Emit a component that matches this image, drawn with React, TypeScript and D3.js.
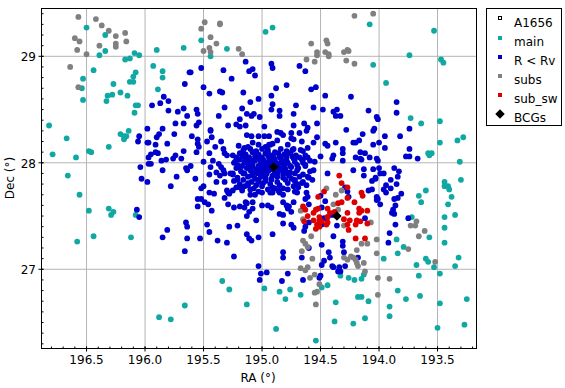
import React, { useEffect, useRef } from 'react';
import * as d3 from 'd3';

type Pt = [number, number];

const xMajor = [196.5, 196.0, 195.5, 195.0, 194.5, 194.0, 193.5];
const yMajor = [29, 28, 27];
const legendNames = ['A1656', 'main', 'R < Rv', 'subs', 'sub_sw', 'BCGs'];

const clusterCentre: Pt[] = [[194.94, 27.97]];
const bcgs: Pt[] = [[194.9, 27.96], [194.36, 27.5]];

const mainPts: Pt[] = [
  [196.5,29.27],[196.34,29.2],[196.34,29.05],[196.39,29.01],[196.09,29.03],[196.05,29.01],[196.13,28.98],[196.17,28.97],[195.9,29.06],[195.67,29.08],
  [196.44,28.87],[196.08,28.85],[195.93,28.91],[195.85,28.86],[195.85,28.8],[196.1,28.81],[196.53,28.79],[196.13,28.76],[196.1,28.76],[196.27,28.74],
  [196.54,28.7],[195.89,28.69],[196.21,28.66],[196.28,28.64],[196.32,28.63],[196.15,28.63],[196.53,28.59],[196.33,28.58],[196.08,28.54],[196.06,28.54],
  [196.09,28.47],[196.82,28.35],[195.52,29.15],[195.3,29.07],[195.44,29.0],[194.97,29.23],[194.91,29.27],[194.08,29.3],[194.05,28.92],[193.53,29.24],
  [193.74,29.01],[193.47,28.97],[193.45,28.94],[193.94,28.75],[193.73,28.42],[193.64,28.37],[193.48,28.39],[196.67,28.23],[196.79,28.08],[196.59,28.05],
  [196.48,28.11],[196.46,28.1],[196.31,28.15],[196.21,28.27],[196.18,28.25],[196.16,28.25],[196.18,28.22],[196.14,28.3],[196.66,27.88],[196.56,27.7],
  [196.48,27.55],[196.31,27.57],[196.27,27.54],[196.29,27.51],[196.08,27.51],[196.44,27.31],[196.12,27.3],[196.58,27.26],[193.28,28.24],[193.33,28.21],
  [193.48,28.19],[193.58,28.09],[193.55,28.09],[193.57,28.07],[193.31,28.01],[193.3,27.84],[193.44,27.82],[193.44,27.78],[193.41,27.78],[193.4,27.75],
  [193.6,27.74],[193.66,27.69],[193.38,27.68],[193.64,27.63],[193.41,27.61],[193.35,27.51],[193.44,27.49],[193.72,27.49],[193.44,27.39],[193.57,27.3],
  [193.85,27.28],[193.44,27.25],[193.79,27.21],[193.84,27.15],[193.96,27.1],[193.6,27.1],[193.32,27.11],[195.88,26.55],[195.78,26.53],[195.66,26.66],
  [195.34,26.89],[195.28,26.81],[195.13,26.67],[194.98,26.82],[194.85,26.79],[194.76,26.81],[194.8,26.72],[194.67,26.76],[194.88,26.44],[194.54,26.33],
  [194.49,26.83],[194.44,26.85],[194.33,26.94],[194.26,26.92],[194.21,26.9],[194.15,26.91],[194.13,26.95],[194.18,26.74],[194.15,26.74],[194.09,26.7],
  [194.37,26.69],[194.38,26.51],[194.22,26.49],[194.12,26.54],[193.68,27.04],[193.58,27.07],[193.53,27.02],[193.35,27.03],[193.66,26.94],[193.48,26.96],
  [193.84,26.8],[193.77,26.72],[193.65,26.75],[193.91,26.65],[193.91,26.56],[193.48,26.68],[193.25,26.72],[193.5,26.45],[193.27,26.48],
];

const subsPts: Pt[] = [
  [196.57,29.37],[196.42,29.35],[196.37,29.29],[196.31,29.24],[196.25,29.19],[196.17,29.22],[196.6,29.17],[196.56,29.14],[196.25,29.12],[196.16,29.14],
  [196.39,29.1],[196.25,29.09],[196.58,29.06],[196.5,29.02],[196.64,28.9],[196.57,28.71],[195.49,29.32],[195.36,29.31],[195.36,29.3],[195.52,29.26],
  [195.44,29.18],[195.39,29.12],[195.45,29.08],[195.5,29.05],[195.44,29.04],[195.2,29.07],[195.17,29.02],[194.21,29.38],[194.05,29.4],[194.58,29.12],
  [194.45,29.15],[194.44,29.12],[194.53,29.04],[194.53,29.01],[194.46,29.04],[194.43,29.02],[194.43,29.0],[194.3,29.04],[194.27,29.06],[194.26,29.05],
  [194.62,28.97],[194.55,28.95],[194.28,28.96],[194.21,28.93],[194.45,27.76],[194.37,27.7],[194.32,27.74],[194.39,27.61],[194.35,27.56],[194.67,27.55],
  [194.65,27.47],[194.07,27.44],[194.3,27.41],[194.58,27.31],[194.65,27.27],[194.63,27.24],[194.61,27.21],[194.66,27.17],[194.02,27.28],[194.15,27.24],
  [194.1,27.24],[194.19,27.18],[194.57,27.1],[194.3,27.11],[194.24,27.12],[194.22,27.11],[194.02,27.15],[193.68,27.45],[193.73,27.41],[193.69,27.41],
  [193.61,27.36],[193.66,27.31],[193.75,27.19],[194.67,27.01],[194.63,26.99],[194.61,27.02],[194.59,26.92],[194.55,26.95],[194.51,26.86],[194.55,26.78],
  [194.53,26.79],[194.54,26.67],[194.27,27.09],[194.2,27.09],[194.19,27.06],[194.18,27.03],[194.13,27.06],[194.12,26.98],[194.01,26.92],[194.01,26.76],
  [193.52,27.07],[193.91,26.91],
];

const subSwPts: Pt[] = [
  [194.34,27.88],[194.32,27.81],[194.27,27.77],[194.47,27.73],[194.52,27.68],[194.15,27.72],[194.14,27.69],[194.32,27.63],[194.35,27.62],[194.27,27.67],
  [194.21,27.63],[194.65,27.59],[194.63,27.56],[194.52,27.57],[194.54,27.56],[194.56,27.53],[194.44,27.57],[194.42,27.53],[194.27,27.53],[194.17,27.57],
  [194.15,27.55],[194.1,27.55],[194.17,27.53],[194.61,27.5],[194.64,27.45],[194.56,27.46],[194.51,27.49],[194.51,27.46],[194.49,27.45],[194.44,27.44],
  [194.38,27.54],[194.3,27.47],[194.25,27.46],[194.19,27.46],[194.16,27.45],[194.2,27.42],[194.1,27.43],[194.27,27.42],[194.26,27.37],[194.53,27.42],
  [194.51,27.4],[194.54,27.38],[194.44,27.49],[194.2,27.29],[194.12,27.29],[194.45,27.42],
];

const blueOuter: Pt[] = [
  [195.62,28.85],[195.66,28.74],[195.84,28.62],[195.8,28.58],[195.94,28.54],[195.87,28.56],[195.8,28.49],[195.72,28.48],[195.67,28.51],[195.64,28.44],
  [195.67,28.37],[195.74,28.37],[195.98,28.32],[195.85,28.32],[195.61,28.85],[195.52,28.89],[195.33,28.87],[195.14,28.95],[195.11,28.86],[195.08,28.88],
  [195.06,28.82],[195.26,28.79],[194.92,28.93],[194.91,28.89],[194.68,28.91],[194.63,28.86],[195.5,28.71],[195.45,28.65],[195.36,28.67],[195.34,28.66],
  [195.16,28.66],[194.88,28.7],[194.79,28.73],[194.58,28.69],[194.54,28.71],[194.92,28.63],[194.46,28.63],[194.24,28.62],[195.03,28.6],[195.1,28.57],
  [194.91,28.55],[194.71,28.54],[195.32,28.52],[195.17,28.51],[195.56,28.5],[195.55,28.46],[194.92,28.5],[194.85,28.49],[194.85,28.44],[194.73,28.46],
  [194.56,28.52],[194.48,28.5],[194.39,28.48],[194.36,28.5],[194.37,28.44],[194.33,28.44],[194.09,28.49],[194.02,28.43],[194.01,28.41],[195.37,28.44],
  [195.13,28.46],[195.09,28.44],[195.07,28.46],[195.02,28.43],[195.19,28.41],[195.54,28.38],[195.56,28.35],[195.29,28.35],[195.22,28.36],[195.19,28.34],
  [195.14,28.35],[194.98,28.34],[194.73,28.35],[194.64,28.37],[194.61,28.33],[194.53,28.37],[195.44,28.31],[194.28,28.31],[194.04,28.32],[193.85,28.57],
  [193.85,28.47],[193.74,28.32],[196.05,28.25],[196.06,28.2],[195.88,28.27],[195.9,28.24],[195.75,28.27],[195.98,28.19],[195.97,28.19],[195.91,28.17],
  [195.81,28.18],[195.97,28.05],[195.95,28.08],[195.91,28.1],[195.89,28.09],[195.74,28.07],[195.76,28.04],[195.67,28.11],[195.69,28.04],[195.82,28.03],
  [195.86,28.02],[195.97,27.99],[195.95,27.99],[196.04,27.96],[195.85,27.93],[195.65,27.95],[195.64,27.93],[195.73,27.87],[196.03,27.85],[195.98,27.82],
  [195.78,27.78],[196.07,27.56],[196.05,27.49],[195.65,27.44],[195.64,27.4],[195.81,27.37],[195.85,27.3],[195.64,27.29],[195.66,27.17],[195.6,28.25],
  [195.55,28.22],[195.55,28.18],[195.54,28.15],[195.44,28.3],[195.43,28.24],[195.47,28.2],[195.35,28.2],[195.4,28.15],[195.56,28.1],[195.45,28.09],
  [195.33,28.13],[195.32,28.09],[195.3,28.07],[195.5,28.01],[195.42,28.02],[195.37,27.99],[195.61,27.97],[195.44,27.96],[195.35,27.96],[195.33,27.93],
  [195.39,27.91],[195.45,27.89],[195.32,27.9],[195.36,27.88],[195.57,27.85],[195.39,27.82],[195.5,27.78],[195.52,27.76],[195.32,27.82],[195.3,27.74],
  [195.28,27.71],[195.45,27.72],[195.41,27.71],[195.32,27.67],[195.52,27.66],[195.55,27.66],[195.49,27.63],[195.46,27.61],[195.55,27.59],[195.43,27.55],
  [195.24,27.58],[195.19,27.59],[195.29,27.61],[195.15,27.58],[195.13,27.62],[195.08,27.63],[195.0,27.6],[194.95,27.6],[194.92,27.58],[195.08,27.57],
  [195.11,27.54],[195.13,27.5],[195.05,27.46],[195.47,27.42],[195.45,27.35],[195.28,27.4],[195.21,27.41],[195.53,27.29],[195.38,27.27],[195.3,27.25],
  [195.13,27.33],[195.11,27.29],[195.09,27.27],[195.03,27.3],[194.91,27.33],[195.24,27.12],[194.82,27.16],[194.82,27.43],[194.85,27.52],[194.82,27.51],
  [194.78,27.57],[194.75,27.54],[194.77,27.59],[194.75,27.42],[194.73,27.39],[194.62,27.72],[194.61,27.68],[194.63,27.66],[194.69,27.77],[194.72,27.73],
  [194.85,27.72],[194.91,27.72],[194.82,27.7],[195.13,28.26],[195.09,28.25],[195.03,28.25],[194.98,28.25],[194.94,28.25],[194.87,28.29],[194.84,28.28],
  [194.82,28.26],[194.75,28.28],[194.68,28.28],[194.62,28.3],[194.75,28.23],[194.73,28.22],[194.53,28.24],[194.66,28.2],[194.78,28.17],[194.87,28.21],
  [194.91,28.18],[194.94,28.17],[195.03,28.17],[195.08,28.19],[195.2,28.16],[195.15,28.14],[195.19,28.09],[195.25,28.07],[194.56,28.19],[194.61,28.14],
  [194.65,28.11],[194.46,28.18],[194.44,28.16],[194.37,28.19],[194.5,28.06],[194.61,28.05],[194.55,28.01],[194.39,28.07],[194.4,28.04],[194.31,28.13],
  [194.31,28.09],[194.14,28.27],[194.05,28.3],[194.17,28.21],[194.2,28.19],[194.22,28.19],[194.05,28.17],[194.16,28.1],[194.12,28.09],[194.08,28.05],
  [194.2,28.05],[194.16,28.04],[194.15,28.03],[194.02,28.04],[194.01,28.02],[194.31,28.02],[194.22,27.93],[194.13,27.94],[194.05,27.94],[194.13,27.88],
  [194.03,27.86],[194.06,27.83],[194.09,27.74],[194.06,27.75],[194.29,27.77],[194.44,27.9],[194.6,27.61],[194.5,27.69],[194.46,27.64],[194.27,27.73],
  [194.26,27.68],[194.49,27.58],[194.4,27.51],[194.36,27.41],[194.44,27.49],[194.47,27.48],[194.49,27.42],[194.6,27.44],[194.63,27.4],[194.64,27.36],
  [194.39,27.31],[194.49,27.23],[194.31,27.26],[194.31,27.22],[194.3,27.16],[194.43,27.16],[194.42,27.11],[194.12,27.48],[194.6,27.2],[193.95,28.25],
  [193.82,28.25],[194.0,28.19],[193.95,28.14],[193.74,28.13],[193.77,28.06],[193.74,28.06],[193.67,28.04],[194.0,27.95],[193.87,27.95],[193.83,27.92],
  [193.99,27.9],[193.96,27.9],[193.84,27.87],[194.03,27.85],[193.9,27.84],[193.85,27.8],[193.94,27.79],[193.96,27.75],[193.9,27.76],[193.94,27.72],
  [193.81,27.71],[194.02,27.68],[194.01,27.66],[194.02,27.65],[193.87,27.66],[193.84,27.67],[193.99,27.61],[193.86,27.6],[193.88,27.56],[193.89,27.53],
  [193.87,27.52],[193.75,27.48],[193.86,27.42],[193.91,27.34],[193.92,27.25],[195.03,27.03],[195.01,26.96],[194.96,26.97],[195.02,26.9],[194.83,26.89],
  [194.78,26.96],[194.65,26.9],[194.82,27.11],[194.66,27.11],[194.49,27.04],[194.47,27.08],[194.5,26.94],[194.51,26.92],[194.4,27.03],[194.39,27.02],
  [194.34,27.02],[194.34,26.99],[194.35,26.98],[194.33,26.98],[194.29,27.03],[194.18,27.11],
];

// core of the cluster, too crowded to read one by one
const blueCore: Pt[] = [
  [195.16,28.12],[195.1,28.13],[195.05,28.11],[195.0,28.13],[194.95,28.12],[194.89,28.1],[194.84,28.13],[194.79,28.11],[194.73,28.13],[194.67,28.12],
  [195.14,28.08],[195.08,28.1],[195.03,28.08],[194.97,28.09],[194.92,28.07],[194.86,28.09],[194.81,28.08],[194.76,28.09],[194.71,28.07],
  [195.22,28.05],[195.17,28.06],[195.11,28.05],[195.06,28.06],[195.0,28.05],[194.95,28.07],[194.9,28.05],[194.85,28.06],[194.79,28.05],[194.74,28.06],[194.68,28.05],[194.63,28.07],
  [195.19,28.03],[195.13,28.04],[195.09,28.02],[195.04,28.04],[194.99,28.03],[194.94,28.04],[194.89,28.03],[194.84,28.04],[194.79,28.02],[194.73,28.04],[194.66,28.03],[194.59,28.02],
  [195.24,28.0],[195.15,28.01],[195.1,28.0],[195.06,28.02],[195.01,28.01],[194.96,28.0],[194.92,28.01],[194.88,28.0],[194.83,28.02],[194.78,28.0],[194.72,28.01],[194.65,28.0],
  [195.21,27.98],[195.17,27.97],[195.12,27.99],[195.08,27.98],[195.03,27.97],[194.99,27.99],[194.95,27.98],[194.91,27.97],[194.86,27.99],[194.81,27.98],[194.76,27.97],[194.7,27.98],[194.63,27.97],
  [195.22,27.95],[195.13,27.95],[195.09,27.96],[195.05,27.94],[195.01,27.96],[194.97,27.95],[194.92,27.94],[194.88,27.96],[194.84,27.95],[194.8,27.94],[194.75,27.96],[194.69,27.95],
  [195.18,27.92],[195.1,27.93],[195.06,27.91],[195.02,27.93],[194.98,27.92],[194.94,27.93],[194.89,27.91],[194.85,27.93],[194.81,27.92],[194.76,27.91],[194.7,27.93],[194.59,27.92],
  [195.25,27.89],[195.15,27.9],[195.09,27.88],[195.04,27.9],[195.0,27.89],[194.96,27.9],[194.91,27.88],[194.87,27.9],[194.82,27.89],[194.77,27.88],[194.72,27.9],[194.65,27.89],
  [195.21,27.86],[195.12,27.87],[195.06,27.85],[195.01,27.87],[194.97,27.86],[194.92,27.85],[194.87,27.87],[194.82,27.86],[194.75,27.85],[194.68,27.87],[194.6,27.86],
  [195.24,27.83],[195.16,27.84],[195.09,27.82],[195.03,27.84],[194.97,27.83],[194.92,27.84],[194.87,27.82],[194.8,27.84],[194.72,27.83],[194.65,27.82],[194.57,27.84],
  [195.19,27.8],[195.12,27.81],[195.05,27.79],[194.99,27.81],[194.93,27.8],[194.85,27.79],[194.78,27.81],[194.7,27.8],[194.62,27.79],
  [195.22,27.77],[195.15,27.78],[195.07,27.76],[195.0,27.78],[194.91,27.77],[194.82,27.76],[194.73,27.78],
  [195.17,27.74],[195.1,27.75],[195.03,27.73],[194.95,27.75],[194.86,27.74],[194.78,27.75],
  [195.23,28.01],[195.2,27.96],[195.25,27.9],[195.21,27.84],[195.19,27.77],[195.27,27.9],[195.13,28.0],[195.16,27.9],[195.12,27.79],[195.06,27.7],
  [195.0,27.72],[195.1,27.7],[195.14,27.63],[194.93,27.72],[194.82,27.63],[194.79,27.6],[194.73,27.63],[194.7,27.72],[194.66,27.81],[194.61,27.87],
  [194.56,27.93],[194.63,27.98],[195.17,28.09],[195.12,28.15],[195.08,28.1],[194.97,28.15],[194.93,28.17],[194.95,28.1],[194.8,28.07],[194.74,28.12],
  [194.72,28.05],[194.65,28.03],[195.25,27.74],[195.29,27.72],[194.83,28.0],[194.78,27.9],[194.72,27.84],[195.03,27.82],[195.08,27.9],[194.89,27.76],
];

const blueAll = [...blueOuter, ...blueCore];

const colors = { main: '#10a8a2', blue: '#0000cc', gray: '#808080', red: '#dd0000', black: '#000000' };
const gridColor = '#b4b4b4';
const fontFamily = '"DejaVu Sans", sans-serif';

const App = () => {
  const svgRef = useRef<SVGSVGElement>(null);

  useEffect(() => {
    const svg = d3.select(svgRef.current);
    svg.selectAll('*').remove();

    const left = 41.5, right = 476.5, top = 8.5, bottom = 348.5;
    const x = d3.scaleLinear().domain([196.885, 193.167]).range([left, right]);
    const y = d3.scaleLinear().domain([29.449, 26.256]).range([top, bottom]);

    svg.append('rect').attr('width', 565).attr('height', 388).attr('fill', 'white');

    // grid
    svg.append('g').selectAll('line').data(xMajor).enter().append('line')
      .attr('x1', (d) => x(d)).attr('x2', (d) => x(d)).attr('y1', top).attr('y2', bottom)
      .attr('stroke', gridColor);
    svg.append('g').selectAll('line').data(yMajor).enter().append('line')
      .attr('x1', left).attr('x2', right).attr('y1', (d) => y(d)).attr('y2', (d) => y(d))
      .attr('stroke', gridColor);

    // points
    const dots = (pts: Pt[], fill: string) =>
      svg.append('g').selectAll('circle').data(pts).enter().append('circle')
        .attr('cx', (d) => x(d[0])).attr('cy', (d) => y(d[1])).attr('r', 2.9).attr('fill', fill);

    svg.append('g').selectAll('rect').data(clusterCentre).enter().append('rect')
      .attr('x', (d) => x(d[0]) - 2).attr('y', (d) => y(d[1]) - 2).attr('width', 4).attr('height', 4)
      .attr('fill', 'none').attr('stroke', 'black');
    dots(mainPts, colors.main);
    dots(blueAll, colors.blue);
    dots(subsPts, colors.gray);
    dots(subSwPts, colors.red);

    const diamond = d3.symbol().type(d3.symbolDiamond2).size(58);
    svg.append('g').selectAll('path').data(bcgs).enter().append('path')
      .attr('d', diamond)
      .attr('transform', (d) => `translate(${x(d[0])},${y(d[1])})`)
      .attr('fill', colors.black);

    // frame
    svg.append('rect').attr('x', left).attr('y', top).attr('width', right - left).attr('height', bottom - top)
      .attr('fill', 'none').attr('stroke', 'black');

    // ticks
    const xMinor = d3.range(1968, 1931, -1).map((d) => d / 10);
    const yMinor = d3.range(263, 295).map((d) => d / 10);
    svg.append('g').selectAll('line').data(xMinor).enter().append('line')
      .attr('x1', (d) => x(d)).attr('x2', (d) => x(d)).attr('y1', bottom - 2).attr('y2', bottom)
      .attr('stroke', 'black');
    svg.append('g').selectAll('line').data(yMinor).enter().append('line')
      .attr('x1', left).attr('x2', left + 2).attr('y1', (d) => y(d)).attr('y2', (d) => y(d))
      .attr('stroke', 'black');
    svg.append('g').selectAll('line').data(xMajor).enter().append('line')
      .attr('x1', (d) => x(d)).attr('x2', (d) => x(d)).attr('y1', bottom - 2).attr('y2', bottom + 3)
      .attr('stroke', 'black');
    svg.append('g').selectAll('line').data(yMajor).enter().append('line')
      .attr('x1', left - 3).attr('x2', left + 2).attr('y1', (d) => y(d)).attr('y2', (d) => y(d))
      .attr('stroke', 'black');

    // tick labels
    const labels = svg.append('g').attr('font-family', fontFamily).attr('font-size', 12).attr('fill', 'black');
    labels.append('g').selectAll('text').data(xMajor).enter().append('text')
      .attr('x', (d) => x(d)).attr('y', 364).attr('text-anchor', 'middle')
      .text((d) => d.toFixed(1));
    labels.append('g').selectAll('text').data(yMajor).enter().append('text')
      .attr('x', 36).attr('y', (d) => y(d) + 5).attr('text-anchor', 'end')
      .text((d) => d);
    labels.append('text').attr('x', 258).attr('y', 382).attr('text-anchor', 'middle').text('RA (°)');
    labels.append('text').attr('transform', 'translate(14,178) rotate(-90)').attr('text-anchor', 'middle').text('Dec (°)');

    // legend
    const legendRow = d3.scalePoint().domain(legendNames).range([19, 114]);
    const legend = svg.append('g');
    legend.append('rect').attr('x', 486.5).attr('y', 8.5).attr('width', 75).attr('height', 117)
      .attr('fill', 'white').attr('stroke', 'black');
    legend.selectAll('text').data(legendNames).enter().append('text')
      .attr('x', 514).attr('y', (d) => legendRow(d)! + 8)
      .attr('font-family', fontFamily).attr('font-size', 12)
      .text((d) => d);
    const swatches = [colors.main, colors.blue, colors.gray, colors.red];
    legend.append('g').selectAll('rect').data(swatches).enter().append('rect')
      .attr('x', 498).attr('y', (d, i) => legendRow(legendNames[i + 1])! - 2)
      .attr('width', 4).attr('height', 4)
      .attr('fill', (d) => d);
    legend.append('rect').attr('x', 498.5).attr('y', legendRow('A1656')! - 2.5).attr('width', 3).attr('height', 3)
      .attr('fill', 'none').attr('stroke', 'black');
    legend.append('path').attr('d', diamond).attr('fill', colors.black)
      .attr('transform', `translate(500,${legendRow('BCGs')})`);
  }, []);

  return <svg ref={svgRef} width={565} height={388} style={{ position: 'absolute', left: 0, top: 0 }} />;
};

export default App;
